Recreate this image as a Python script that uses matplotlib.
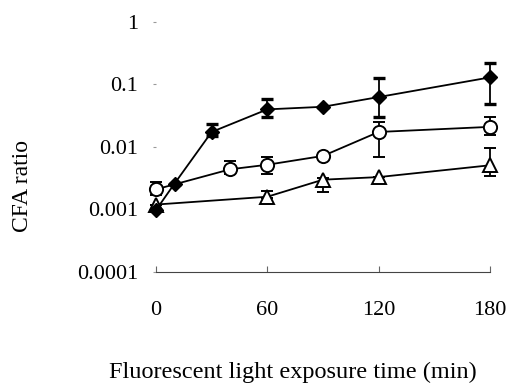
import matplotlib
matplotlib.use("Agg")
import matplotlib.pyplot as plt

# exposure time (min)
t_diamond = [0, 10, 30, 60, 90, 120, 180]
diamond = [0.00098, 0.0026, 0.0174, 0.040, 0.044, 0.063, 0.13]
diamond_lo = [0, 0, 0.0024, 0.010, 0, 0.033, 0.081]
diamond_hi = [0, 0, 0.0059, 0.019, 0, 0.064, 0.09]

t_circle = [0, 40, 60, 90, 120, 180]
circle = [0.0021, 0.0044, 0.0052, 0.0072, 0.0174, 0.021]
circle_lo = [0.0004, 0.0007, 0.0015, 0, 0.0105, 0.0054]
circle_hi = [0.0007, 0.0016, 0.0017, 0, 0.0076, 0.009]

t_triangle = [0, 60, 90, 120, 180]
triangle = [0.0012, 0.0016, 0.0030, 0.0033, 0.0051]
triangle_lo = [0, 0.0001, 0.0011, 0, 0.0017]
triangle_hi = [0, 0.0004, 0.0002, 0, 0.0046]

xticks = [0, 60, 120, 180]
yticks = [0.0001, 0.001, 0.01, 0.1, 1]
ytick_labels = ["0.0001", "0.001", "0.01", "0.1", "1"]

plt.rcParams['font.family'] = ['Liberation Serif', 'DejaVu Serif']

fig = plt.figure(figsize=(5.09, 3.88), dpi=100)
ax = fig.add_axes([156/509, 1 - 272/388, (490 - 156)/509, (272 - 22)/388])

estilo = dict(color="black", lw=1.3, ecolor="black", elinewidth=1.3,
              capsize=4, capthick=2.4, clip_on=False)

ax.errorbar(t_triangle, triangle, yerr=[triangle_lo, triangle_hi], marker="^",
            ms=9.5, mfc="white", mec="black", mew=1.4, **estilo)
ax.errorbar(t_circle, circle, yerr=[circle_lo, circle_hi], marker="o",
            ms=9.5, mfc="white", mec="black", mew=1.4, **estilo)
ax.errorbar(t_diamond, diamond, yerr=[diamond_lo, diamond_hi], marker="D",
            ms=7.5, mfc="black", mec="black", **estilo)

ax.set_yscale("log")
ax.set_xlim(0, 180)
ax.set_ylim(0.0001, 1)
ax.set_yticks(yticks)
ax.set_yticklabels(ytick_labels)
ax.minorticks_off()
ax.set_xticks(xticks)

for s in ["top", "right", "left"]:
    ax.spines[s].set_visible(False)
ax.spines["bottom"].set_linewidth(0.8)
ax.spines["bottom"].set_color("#444444")

ax.tick_params(axis="y", length=2, color="#999999", pad=11, labelsize=16)
ax.tick_params(axis="x", direction="in", length=4, color="#666666", pad=21, labelsize=16)

fig.text(23/509, 1 - 186/388, "CFA ratio", rotation=90, ha="center", va="center", fontsize=17)
fig.text(293/509, 1 - 372/388, "Fluorescent light exposure time (min)",
         ha="center", va="center", fontsize=17.5)

fig.savefig("out.png", dpi=100)
